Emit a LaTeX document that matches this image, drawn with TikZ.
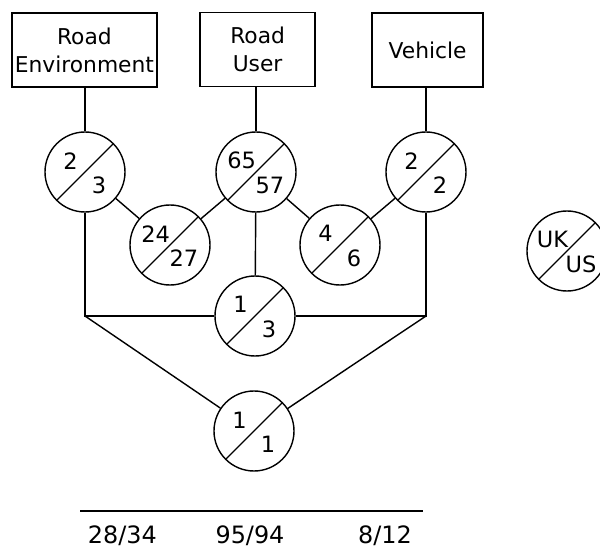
\documentclass[tikz,border=0pt]{standalone}
\usepackage{fontspec}
\setmainfont{DejaVu Sans}
\usetikzlibrary{positioning}

\tikzset{
  factor/.style={draw, line width=1.2pt, minimum width=#1, minimum height=1.85cm,
    align=center, inner sep=2pt, font=\fontsize{15.5}{20}\selectfont},
  ratio/.style={circle, draw, line width=1pt, minimum size=2cm, inner sep=0pt,
    path picture={\draw[line width=1pt] (path picture bounding box.south west)
      -- (path picture bounding box.north east);}},
  num/.style={inner sep=0pt, font=\fontsize{16}{18}\selectfont},
  total/.style={inner sep=0pt, font=\fontsize{17}{19}\selectfont},
}

\begin{document}
\begin{tikzpicture}[line width=1pt]
\useasboundingbox (0,0) rectangle (15,13.9);

% nodes (factors)
\node[factor=3.575cm] (env) at (2.11,12.65) {Road\\Environment};
\node[factor=2.875cm] (user) at (6.44,12.66) {Road\\User};
\node[factor=2.775cm] (veh) at (10.69,12.65) {Vehicle};

% ratio circles (UK above, US below)
\foreach \n/\x/\y/\t/\b in {c23/2.125/9.6/2/3, c6557/6.4/9.6/65/57, c22/10.65/9.6/2/2,
    c2427/4.25/7.775/24/27, c46/8.5/7.775/4/6, c13/6.375/6.0/1/3,
    c11/6.35/3.125/1/1, key/14.175/7.625/UK/US} {
  \node[ratio] (\n) at (\x,\y) {};
  \node[num] (\n-t) at ([shift={(-0.36,0.28)}]\n.center) {\t};
  \node[num] (\n-b) at ([shift={(0.35,-0.33)}]\n.center) {\b};
}

% corners
\coordinate (lcorner) at (c23 |- c13);
\coordinate (rcorner) at (c22 |- c13);

% connectors
\draw (env.south -| c23) -- (c23);
\draw (user.south -| c6557) -- (c6557);
\draw (veh.south -| c22) -- (c22);
\draw (c23) -- (c2427);
\draw (c2427) -- (c6557);
\draw (c6557) -- (c46);
\draw (c46) -- (c22);
\draw (c6557) -- (c13);
\draw (c23) -- (lcorner) -- (c13);
\draw (c22) -- (rcorner) -- (c13);
\draw (lcorner) -- (c11);
\draw (rcorner) -- (c11);

% totals
\coordinate (bl) at (2.0,1.125);
\coordinate (br) at (10.575,1.125);
\draw (bl) -- (br);
\node[total] (sumenv) at (3.06,0.5) {28/34};
\node[total] (sumuser) at (6.25,0.5) {95/94};
\node[total] (sumveh) at (9.625,0.5) {8/12};
\end{tikzpicture}
\end{document}
